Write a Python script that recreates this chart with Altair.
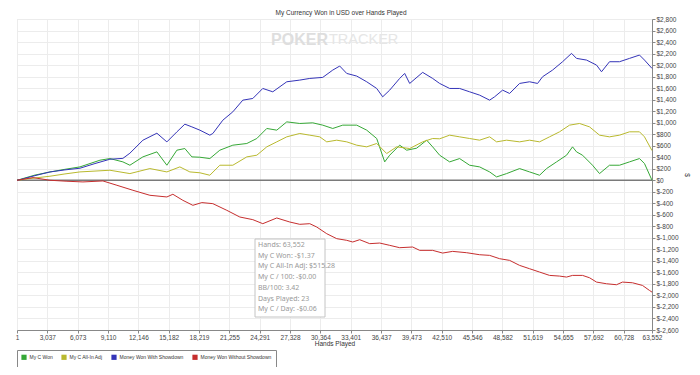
import altair as alt
import pandas as pd

series_names = ["My C Won", "My C All-In Adj", "Money Won With Showdown", "Money Won Without Showdown"]
series_colors = ["#36a836", "#b9b92e", "#3434b8", "#c62e2e"]

won_hands = [1, 1800, 3300, 4800, 6300, 8300, 9300, 10600, 11300, 12600, 14000, 15000, 16000, 16800,
             17500, 18300, 19300, 20300, 21600, 23000, 24000, 25000, 26000, 27000, 28300, 29600, 30600,
             31600, 32600, 34000, 35000, 36000, 36800, 37300, 38300, 39000, 40000, 41000, 41600, 42300,
             43300, 44300, 45300, 46300, 47300, 48000, 49000, 50300, 51300, 52300, 53000, 54000, 55000,
             55600, 56000, 56600, 57600, 58300, 59300, 60300, 61300, 62300, 62800, 63552]
won_usd = [0, 90, 144, 190, 232, 348, 377, 319, 261, 406, 493, 261, 522, 551,
           406, 400, 377, 522, 609, 638, 725, 899, 870, 1014, 986, 997, 957,
           899, 957, 957, 870, 725, 319, 435, 609, 522, 557, 696, 580, 435,
           319, 377, 261, 232, 145, 58, 116, 203, 145, 87, 203, 319, 435,
           580, 493, 435, 261, 116, 261, 261, 319, 377, 290, 0]

adj_hands = [1, 1800, 3300, 4800, 6300, 9300, 11300, 13300, 15000, 16300, 17300, 18300, 19300, 20300,
             21600, 23000, 24000, 25000, 26000, 27000, 28300, 29300, 30300, 31000, 32000, 33000, 34000,
             35000, 36000, 37000, 38000, 39300, 40600, 41600, 42300, 43300, 44300, 45300, 46300, 47300,
             48000, 49000, 50300, 51300, 52300, 53300, 54300, 55300, 56300, 57300, 58300, 59300, 60300,
             61300, 62300, 62800, 63552]
adj_usd = [0, 40, 70, 110, 145, 174, 116, 203, 145, 232, 145, 130, 87, 261,
           261, 406, 435, 580, 667, 754, 812, 783, 754, 667, 696, 667, 609,
           580, 638, 464, 580, 551, 667, 725, 720, 783, 754, 725, 696, 754,
           667, 696, 667, 696, 667, 754, 841, 957, 986, 927, 783, 754, 783,
           841, 841, 754, 515]

sd_hands = [1, 300, 1800, 3300, 4800, 6300, 7800, 9300, 10600, 11300, 12600, 14000, 15000, 16000,
            16800, 17500, 18300, 19300, 19600, 20600, 21600, 22600, 23600, 24600, 25600, 27000, 28300,
            29300, 30600, 31600, 32300, 33000, 34000, 35000, 36000, 36600, 37300, 38300, 38800, 39300,
            40600, 41600, 42300, 43300, 44300, 45300, 46300, 47300, 47800, 48600, 49300, 50300, 51300,
            52100, 52600, 53600, 54600, 55500, 56000, 57000, 58000, 58500, 59300, 60300, 61300, 62300,
            62800, 63552]
sd_usd = [0, 10, 80, 144, 180, 209, 290, 365, 380, 470, 695, 817, 666, 840,
          974, 927, 870, 783, 812, 1043, 1188, 1391, 1420, 1594, 1536, 1710, 1739,
          1768, 1786, 1913, 1983, 1855, 1809, 1710, 1594, 1449, 1565, 1768, 1855, 1681,
          1873, 1768, 1681, 1594, 1594, 1536, 1478, 1391, 1449, 1565, 1507, 1681, 1710,
          1681, 1797, 1913, 2058, 2203, 2116, 2087, 2000, 1884, 2058, 2058, 2116, 2174,
          2087, 1942]

nsd_hands = [1, 1600, 3300, 5000, 6600, 8600, 10000, 11600, 13300, 15000, 15600, 16600, 17600, 18500,
             19600, 21000, 22300, 23600, 24600, 26000, 27300, 28300, 29300, 30000, 31000, 32000, 33000,
             33600, 34300, 35300, 36300, 37300, 38300, 39600, 40300, 41600, 42600, 43600, 45000, 46300,
             47300, 48300, 49300, 50300, 51300, 52300, 53300, 54300, 55000, 55600, 56600, 57300, 58000,
             59000, 60000, 60600, 61600, 62600, 63300, 63552]
nsd_usd = [0, 46, 0, -17, -29, -12, -87, -174, -261, -290, -243, -348, -435, -388,
           -406, -522, -638, -684, -754, -655, -725, -765, -754, -812, -928, -1014, -1043,
           -1072, -1032, -1101, -1090, -1130, -1171, -1159, -1217, -1217, -1264, -1235, -1258, -1293,
           -1304, -1362, -1391, -1478, -1536, -1594, -1652, -1664, -1681, -1652, -1652, -1693, -1768,
           -1797, -1814, -1768, -1780, -1826, -1913, -1942]

x_ticks = [1, 3037, 6073, 9110, 12146, 15182, 18219, 21255, 24291, 27328, 30364, 33401, 36437,
           39473, 42510, 45546, 48582, 51619, 54655, 57692, 60728, 63552]
y_ticks = list(range(-2600, 2801, 200))

info_lines = ["Hands: 63,552", "My C Won: -$1.37", "My C All-In Adj: $515.28", "My C / 100: -$0.00",
              "BB/100: 3.42", "Days Played: 23", "My C / Day: -$0.06"]

rows = []
for name, hs, vs in [(series_names[0], won_hands, won_usd), (series_names[1], adj_hands, adj_usd),
                     (series_names[2], sd_hands, sd_usd), (series_names[3], nsd_hands, nsd_usd)]:
    for h, v in zip(hs, vs):
        rows.append({"hands": h, "usd": v, "series": name})
df = pd.DataFrame(rows)

W, H = 635, 311
FONT = "Liberation Sans"

x_scale = alt.Scale(domain=[1, 63552], nice=False, zero=False)
y_scale = alt.Scale(domain=[-2600, 2800], nice=False, zero=False)

x_axis = alt.Axis(values=x_ticks, title="Hands Played", labelFontSize=6.5, titleFontSize=6.5,
                  titleFontWeight="normal", labelColor="#444", titleColor="#333", tickSize=3, labelPadding=1,
                  titlePadding=0, domainColor="#888", tickColor="#888", gridColor="#ececec",
                  labelFont=FONT, titleFont=FONT, labelOverlap=False, labelFlush=False,
                  labelExpr="format(datum.value, ',')")
y_axis = alt.Axis(orient="right", values=y_ticks, title="$", labelFontSize=6.5, titleFontSize=6.5,
                  titleFontWeight="normal", labelColor="#444", titleColor="#333", tickSize=3, labelPadding=1,
                  titlePadding=5, domainColor="#888", tickColor="#888", gridColor="#ececec",
                  labelFont=FONT, titleFont=FONT, labelOverlap=False, labelFlush=False,
                  labelExpr="datum.value < 0 ? '$-' + format(-datum.value, ',') : '$' + format(datum.value, ',')")

X = alt.X("hands:Q", scale=x_scale, axis=x_axis)
Y = alt.Y("usd:Q", scale=y_scale, axis=y_axis)

lines = alt.Chart(df).mark_line(strokeWidth=1).encode(
    x=X, y=Y,
    color=alt.Color("series:N", scale=alt.Scale(domain=series_names, range=series_colors),
                    legend=alt.Legend(orient="bottom", offset=3, direction="horizontal", columns=4,
                                      title=None, labelFontSize=5, labelFont=FONT, labelColor="#333",
                                      symbolType="square", symbolSize=4, symbolStrokeWidth=3.2,
                                      columnPadding=3, labelOffset=2.5,
                                      padding=4, strokeColor="#888", fillColor="#ffffff")),
)

zero = alt.Chart(pd.DataFrame({"usd": [0]})).mark_rule(color="#7a7a7a", strokeWidth=1.5).encode(y=Y)

title = alt.Chart(pd.DataFrame({"t": ["My Currency Won in USD over Hands Played"]})).mark_text(
    fontSize=6.5, font=FONT, color="#333", align="center", baseline="middle"
).encode(text="t:N", x=alt.value(324), y=alt.value(-6.5))

wm1 = alt.Chart(pd.DataFrame({"t": ["POKER"]})).mark_text(
    fontSize=16, font=FONT, fontWeight="bold", color="#dedede",
    align="right", baseline="middle"
).encode(text="t:N", x=alt.value(311), y=alt.value(21))
wm2 = alt.Chart(pd.DataFrame({"t": ["TRACKER"]})).mark_text(
    fontSize=14.5, font=FONT, color="#e6e6e6",
    align="left", baseline="middle"
).encode(text="t:N", x=alt.value(312), y=alt.value(21))

box = alt.Chart(pd.DataFrame({"a": [0]})).mark_rect(fill="white", stroke="#c4c4c4", strokeWidth=1).encode(
    x=alt.value(238), x2=alt.value(308), y=alt.value(220), y2=alt.value(298)
)
info = alt.Chart(pd.DataFrame({"t": ["\n".join(info_lines)]})).mark_text(
    fontSize=7, font="Noto Sans", color="#999", align="left", baseline="top", lineBreak="\n", lineHeight=10.7
).encode(text="t:N", x=alt.value(241), y=alt.value(222))

chart = alt.layer(zero, lines, wm1, wm2, title, box, info).properties(
    width=W, height=H,
    autosize=alt.AutoSizeParams(type="none"),
    padding={"left": 9, "top": 11, "right": 40, "bottom": 37},
).configure_view(stroke="#888", strokeWidth=1).configure(background="white")

chart.save("out.html", embed_options={"renderer": "svg", "actions": False})
